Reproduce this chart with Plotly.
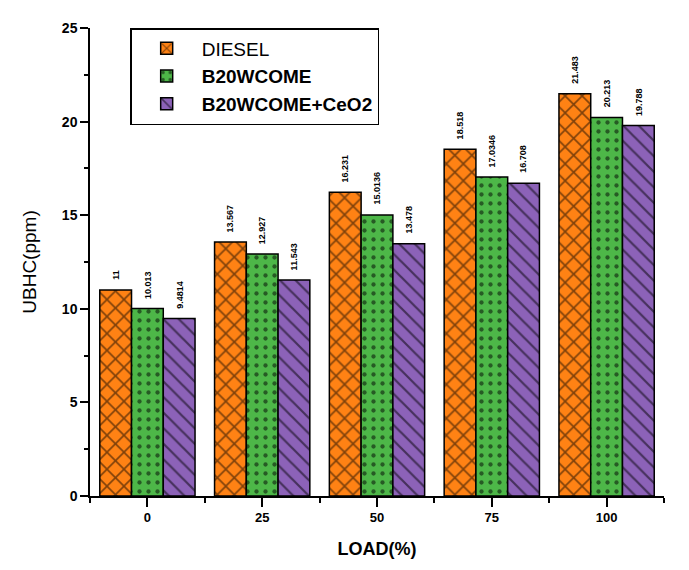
import plotly.graph_objects as go

loads = ["0", "25", "50", "75", "100"]
diesel = [11.0, 13.567, 16.231, 18.518, 21.483]
b20 = [10.013, 12.927, 15.0136, 17.0346, 20.213]
b20ceo2 = [9.4814, 11.543, 13.478, 16.708, 19.788]
series_names = ["DIESEL", "<b>B20WCOME</b>", "<b>B20WCOME+CeO2</b>"]
colors = ["#FF8214", "#4DB748", "#8C62B8"]
patterns = ["x", ".", "\\"]
sizes = [12, 9, 11]
solids = [0.25, 0.18, 0.2]

W, H = 681, 562
ML, MR, MT, MB = 82, 25, 14, 74
xpos = list(range(len(loads)))
bargap = 0.17
bar_px = (W - ML - MR) / len(loads) * (1 - bargap) / 3

fig = go.Figure()
for k, (name, vals, col, pat, sz, so) in enumerate(
        zip(series_names, [diesel, b20, b20ceo2], colors, patterns, sizes, solids)):
    fig.add_trace(go.Bar(
        x=xpos, y=vals, name=name,
        marker=dict(color=col, line=dict(color="black", width=1.5),
                    pattern=dict(shape=pat, fgcolor="black", bgcolor=col, size=sz, solidity=so)),
    ))
    for xi, v in zip(xpos, vals):
        fig.add_annotation(x=xi, y=v, text=f"<b>{v:g}</b>", showarrow=False,
                           textangle=-90, xanchor="center", yanchor="bottom",
                           xshift=(k - 1) * bar_px, yshift=8,
                           font=dict(family="Liberation Sans", size=9, color="black"))

fig.update_layout(
    width=W, height=H,
    paper_bgcolor="white", plot_bgcolor="white",
    margin=dict(l=ML, r=MR, t=MT, b=MB),
    barmode="group", bargap=bargap, bargroupgap=0,
    font=dict(family="Liberation Sans", color="black"),
    legend=dict(x=0.07, y=1.0, xanchor="left", yanchor="top",
                bordercolor="black", borderwidth=1.5, bgcolor="white",
                font=dict(size=19, family="Liberation Sans", color="black"),
                tracegroupgap=0, itemwidth=60),
    showlegend=True,
)
fig.update_xaxes(
    range=[-0.5, 4.5], tickvals=xpos, ticktext=loads,
    showline=True, linecolor="black", linewidth=1.5,
    ticks="outside", ticklen=9, tickwidth=1.5, tickcolor="black",
    minor=dict(tick0=0.5, dtick=1, ticks="outside", ticklen=5, tickwidth=1.5, tickcolor="black"),
    tickfont=dict(size=13, family="Liberation Sans", color="black", weight="bold"),
    title=dict(text="<b>LOAD(%)</b>", font=dict(size=18), standoff=18),
    showgrid=False, zeroline=False,
)
fig.update_yaxes(
    range=[0, 25], dtick=5,
    showline=True, linecolor="black", linewidth=1.5,
    ticks="outside", ticklen=8, tickwidth=1.5, tickcolor="black",
    minor=dict(dtick=2.5, ticks="outside", ticklen=4, tickwidth=1.5, tickcolor="black"),
    tickfont=dict(size=14, family="Liberation Sans", color="black", weight="bold"),
    title=dict(text="UBHC(ppm)", font=dict(size=19), standoff=20),
    showgrid=False, zeroline=False,
)

fig.write_html("out.html",
               post_script="var gd=document.getElementById('{plot_id}');"
                           "setTimeout(function(){Plotly.redraw(gd);},50);")
